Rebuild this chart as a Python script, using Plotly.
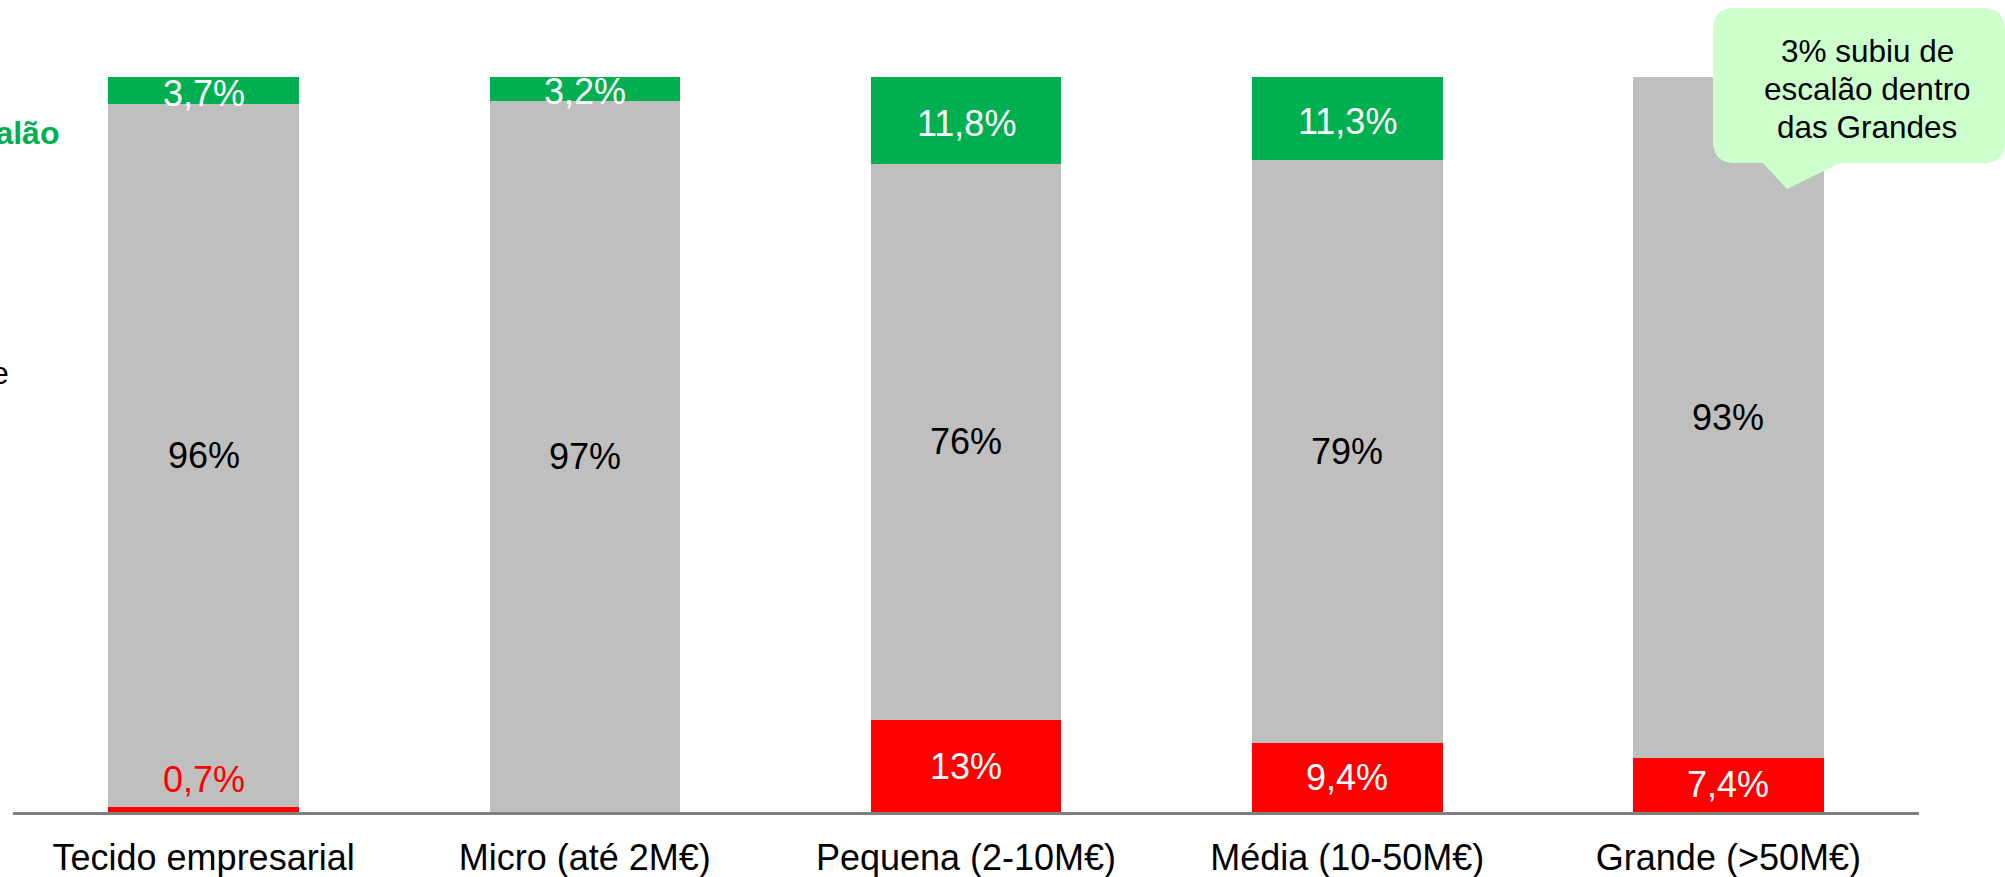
import plotly.graph_objects as go

categories = ["Tecido empresarial", "Micro (até 2M€)", "Pequena (2-10M€)", "Média (10-50M€)", "Grande (>50M€)"]
red_vals = [0.7, 0.0, 12.5, 9.4, 7.4]
gray_vals = [95.6, 96.8, 75.7, 79.3, 92.6]
green_vals = [3.7, 3.2, 11.8, 11.3, 0.0]
red_labels = ["0,7%", "", "13%", "9,4%", "7,4%"]
gray_labels = ["96%", "97%", "76%", "79%", "93%"]
green_labels = ["3,7%", "3,2%", "11,8%", "11,3%", ""]
callout_lines = ["3% subiu de", "escalão dentro", "das Grandes"]

OFF = 0  # body margin removed via post_script
W, H = 2005 - OFF, 877 - OFF
L, R, T, B = 13 - OFF, W - (1919 - OFF), 77 - OFF, H - (812 - OFF)
FONT = "Liberation Sans, Arial, sans-serif"
GREEN = "#00B050"
RED = "#FF0000"
GRAY = "#BFBFBF"
LBL = 36

def px(xw):
    return (xw - OFF - L) / (W - L - R)

def py(yw):
    return (H - B - (yw - OFF)) / (H - T - B)

fig = go.Figure()
for vals, col in [(red_vals, RED), (gray_vals, GRAY), (green_vals, GREEN)]:
    fig.add_trace(go.Bar(x=categories, y=vals, marker_color=col, marker_line_width=0,
                         width=0.5, hoverinfo="skip"))

ann = []
for i, c in enumerate(categories):
    r, g, gr = red_vals[i], gray_vals[i], green_vals[i]
    if red_labels[i]:
        if r < 2:
            ann.append(dict(x=c, y=r, xref="x", yref="y", text=red_labels[i], showarrow=False,
                            xanchor="center", yanchor="bottom", yshift=5,
                            font=dict(size=LBL, color=RED, family=FONT)))
        else:
            ann.append(dict(x=c, y=r / 2, xref="x", yref="y", text=red_labels[i], showarrow=False,
                            xanchor="center", yanchor="middle",
                            font=dict(size=LBL, color="white", family=FONT)))
    ann.append(dict(x=c, y=r + g / 2, xref="x", yref="y", text=gray_labels[i], showarrow=False,
                    xanchor="center", yanchor="middle",
                    font=dict(size=LBL, color="black", family=FONT)))
    if green_labels[i]:
        ann.append(dict(x=c, y=r + g + gr / 2, xref="x", yref="y", text=green_labels[i], showarrow=False,
                        xanchor="center", yanchor="middle", yshift=-3,
                        font=dict(size=LBL, color="white", family=FONT)))

# callout text, one annotation per line for tight line spacing
for line, yw in zip(callout_lines, [51, 89, 127]):
    ann.append(dict(x=px(1867), y=py(yw), xref="paper", yref="paper", showarrow=False,
                    xanchor="center", yanchor="middle", text=line,
                    font=dict(size=31.5, color="black", family=FONT)))
# cut-off side labels
ann.append(dict(x=px(61), y=py(133), xref="paper", yref="paper", showarrow=False,
                xanchor="right", yanchor="middle",
                text="<b>Subiu de escalão</b>", font=dict(size=32, color=GREEN, family=FONT)))
ann.append(dict(x=px(11), y=py(373), xref="paper", yref="paper", showarrow=False,
                xanchor="right", yanchor="middle",
                text="Manteve", font=dict(size=32, color="black", family=FONT)))

# callout shape (rounded box + tail), window pixel coords
x0, x1, y0, y1, rr = 1713, 2005, 8, 163, 22
pts = [
    ("M", x0 + rr, y0),
    ("L", x1 - rr, y0),
    ("Q", x1, y0, x1, y0 + rr),
    ("L", x1, y1 - rr),
    ("Q", x1, y1, x1 - rr, y1),
    ("L", 1840, y1),
    ("L", 1787, 189),
    ("L", 1763, y1),
    ("L", x0 + rr, y1),
    ("Q", x0, y1, x0, y1 - rr),
    ("L", x0, y0 + rr),
    ("Q", x0, y0, x0 + rr, y0),
]
path = ""
for p in pts:
    cmd = p[0]
    coords = p[1:]
    path += cmd + " " + " ".join(
        f"{px(coords[k]):.5f},{py(coords[k+1]):.5f}" for k in range(0, len(coords), 2)) + " "
path += "Z"

fig.update_layout(
    width=W, height=H,
    margin=dict(l=L, r=R, t=T, b=B, autoexpand=False),
    barmode="stack",
    showlegend=False,
    plot_bgcolor="white", paper_bgcolor="white",
    font=dict(family=FONT, color="black"),
    annotations=ann,
    shapes=[dict(type="path", path=path, xref="paper", yref="paper",
                 fillcolor="#CCFFCC", line=dict(width=0), layer="above")],
    xaxis=dict(range=[-0.5, 4.5], showline=True, linecolor="#808080", linewidth=2.5,
               showgrid=False, zeroline=False, ticks="", tickfont=dict(size=36, color="black", family=FONT),
               ticklabelstandoff=12, automargin=False, fixedrange=True),
    yaxis=dict(range=[0, 100], visible=False, fixedrange=True),
)

fig.write_html("out.html", config={"displayModeBar": False},
               post_script="document.body.style.margin='0';document.body.style.overflow='hidden';")
